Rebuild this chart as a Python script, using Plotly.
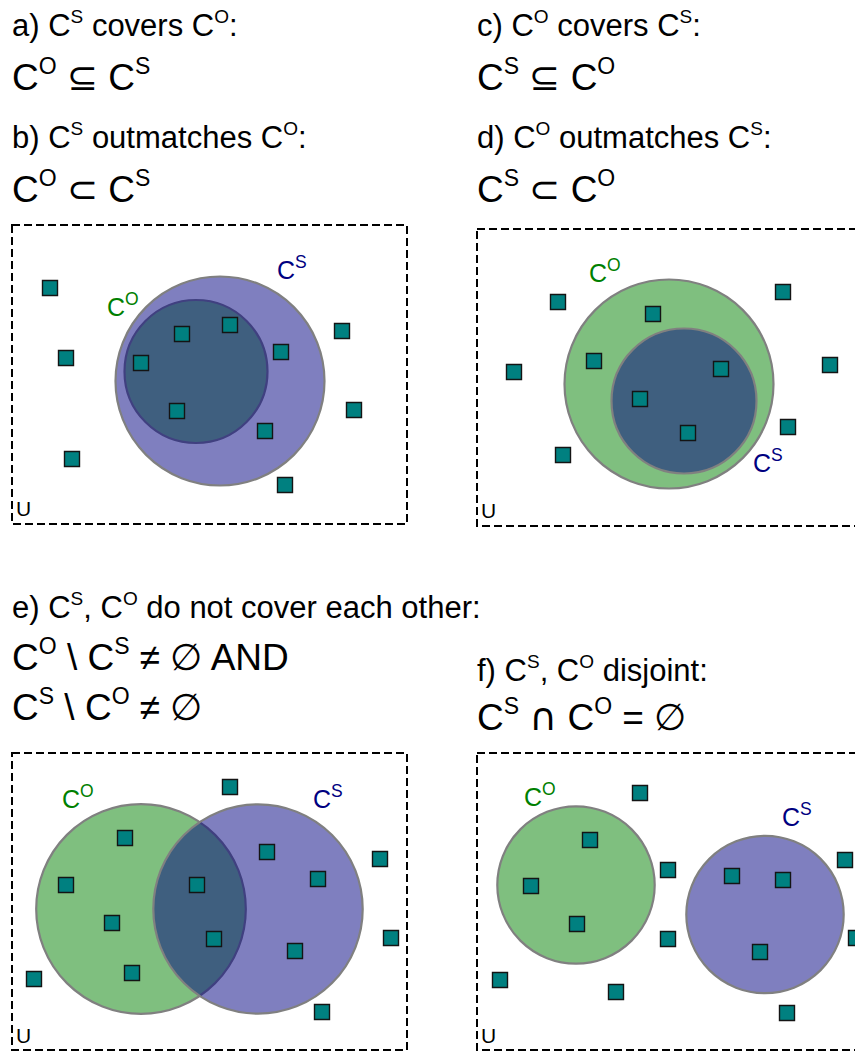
import plotly.graph_objects as go

W, H = 863, 1052
OFF = 8  # page body margin in the browser
FONT = "Liberation Sans, Arial, sans-serif"


def sup(letter, px):
    return "<sup><span style='font-size:%dpx'>%s</span></sup>" % (px, letter)


HS = 19   # superscript size in headers
FS = 23   # superscript size in formulas

# ---- text content ----
header_texts = [
    "a) C%s covers C%s:" % (sup("S", HS), sup("O", HS)),
    "b) C%s outmatches C%s:" % (sup("S", HS), sup("O", HS)),
    "c) C%s covers C%s:" % (sup("O", HS), sup("S", HS)),
    "d) C%s outmatches C%s:" % (sup("O", HS), sup("S", HS)),
    "e) C%s, C%s do not cover each other:" % (sup("S", HS), sup("O", HS)),
    "f) C%s, C%s disjoint:" % (sup("S", HS), sup("O", HS)),
]
header_x = [10, 10, 475, 475, 10, 475]
header_y = [24, 136, 24, 136, 606, 669]

formula_texts = [
    "C%s \u2286 C%s" % (sup("O", FS), sup("S", FS)),
    "C%s \u2282 C%s" % (sup("O", FS), sup("S", FS)),
    "C%s \u2286 C%s" % (sup("S", FS), sup("O", FS)),
    "C%s \u2282 C%s" % (sup("S", FS), sup("O", FS)),
    "C%s \\ C%s \u2260 \u2205 AND" % (sup("O", FS), sup("S", FS)),
    "C%s \\ C%s \u2260 \u2205" % (sup("S", FS), sup("O", FS)),
    "C%s <span style='font-family:DejaVu Sans;font-size:38px'>\u2229</span> C%s = \u2205" % (sup("S", FS), sup("O", FS)),
]
formula_x = [10, 10, 475, 475, 10, 10, 475]
formula_y = [75, 187, 75, 187, 655, 705, 716]

# ---- universe boxes (x0, y0, x1, y1) ----
box_x0 = [12, 477, 12, 477]
box_y0 = [225, 229, 753, 753]
box_x1 = [407, 875, 407, 875]
box_y1 = [524, 526, 1050, 1050]

# ---- circles: panel b, d, e, f ----
co_cx = [196, 669, 141, 576]
co_cy = [371.5, 384, 909, 885]
co_r = [71.5, 104.5, 104.8, 78.7]
cs_cx = [220, 684, 258, 765]
cs_cy = [381, 401, 909, 914.5]
cs_r = [104.5, 72.5, 104.7, 78.7]

co_label_x = [123, 605, 78, 540]
co_label_y = [305, 271, 797, 795]
cs_label_x = [292, 768, 328, 797]
cs_label_y = [268, 461, 797, 815]
u_label_x = [23, 488, 23, 488]
u_label_y = [508, 510, 1035, 1035]

# ---- elements (squares) ----
sq_b_x = [50, 66, 72, 182, 230, 141, 177, 281, 265, 342, 354, 285]
sq_b_y = [288, 358, 459, 334, 325, 363, 411, 352, 431, 331, 410, 485]
sq_d_x = [558, 653, 783, 514, 594, 721, 640, 830, 688, 788, 563]
sq_d_y = [302, 314, 292, 372, 361, 369, 399, 365, 433, 427, 455]
sq_e_x = [125, 66, 112, 132, 34, 197, 214, 230, 267, 318, 295, 380, 391, 322]
sq_e_y = [838, 885, 923, 973, 979, 885, 939, 787, 852, 879, 951, 859, 938, 1012]
sq_f_x = [640, 590, 531, 577, 668, 668, 500, 616, 732, 783, 760, 845, 856, 787]
sq_f_y = [793, 840, 886, 924, 870, 939, 980, 992, 876, 880, 952, 860, 938, 1013]

GREEN_FILL = "rgba(0,128,0,0.5)"
BLUE_FILL = "rgba(0,0,128,0.5)"
EDGE = "rgb(128,128,128)"

fig = go.Figure()
shapes = []

# boxes
for x0, y0, x1, y1 in zip(box_x0, box_y0, box_x1, box_y1):
    shapes.append(dict(type="rect", xref="x", yref="y", x0=x0, y0=y0, x1=x1, y1=y1,
                       line=dict(color="black", width=2, dash="8px,4px"),
                       fillcolor="rgba(0,0,0,0)", layer="below"))

# circles: CO (green) drawn first, CS (blue) on top
for i in range(4):
    shapes.append(dict(type="circle", xref="x", yref="y",
                       x0=co_cx[i] - co_r[i], x1=co_cx[i] + co_r[i],
                       y0=co_cy[i] - co_r[i], y1=co_cy[i] + co_r[i],
                       fillcolor=GREEN_FILL, line=dict(color=EDGE, width=2.2), layer="below"))
    shapes.append(dict(type="circle", xref="x", yref="y",
                       x0=cs_cx[i] - cs_r[i], x1=cs_cx[i] + cs_r[i],
                       y0=cs_cy[i] - cs_r[i], y1=cs_cy[i] + cs_r[i],
                       fillcolor=BLUE_FILL, line=dict(color=EDGE, width=2.2), layer="below"))

# squares
all_x = sq_b_x + sq_d_x + sq_e_x + sq_f_x
all_y = sq_b_y + sq_d_y + sq_e_y + sq_f_y
fig.add_trace(go.Scatter(
    x=all_x, y=all_y, mode="markers",
    marker=dict(symbol="square", size=15, color="rgb(0,128,128)",
                line=dict(color="rgb(20,20,20)", width=1.4)),
    hoverinfo="skip", showlegend=False))

annotations = []
for t, x, y in zip(header_texts, header_x, header_y):
    annotations.append(dict(text=t, x=x, y=y, xref="x", yref="y", xanchor="left",
                            yanchor="middle", showarrow=False,
                            font=dict(family=FONT, size=31, color="black")))
for t, x, y in zip(formula_texts, formula_x, formula_y):
    annotations.append(dict(text=t, x=x, y=y, xref="x", yref="y", xanchor="left",
                            yanchor="middle", showarrow=False,
                            font=dict(family=FONT, size=37, color="black")))
for x, y in zip(co_label_x, co_label_y):
    annotations.append(dict(text="C<sup>O</sup>", x=x, y=y, xref="x", yref="y",
                            showarrow=False, font=dict(family=FONT, size=25, color="rgb(0,128,0)")))
for x, y in zip(cs_label_x, cs_label_y):
    annotations.append(dict(text="C<sup>S</sup>", x=x, y=y, xref="x", yref="y",
                            showarrow=False, font=dict(family=FONT, size=25, color="rgb(0,0,128)")))
for x, y in zip(u_label_x, u_label_y):
    annotations.append(dict(text="U", x=x, y=y, xref="x", yref="y",
                            showarrow=False, font=dict(family=FONT, size=21, color="black")))

fig.update_layout(
    width=W - OFF, height=H - OFF,
    margin=dict(l=0, r=0, t=0, b=0),
    paper_bgcolor="white", plot_bgcolor="white",
    xaxis=dict(range=[OFF, W], visible=False, fixedrange=True),
    yaxis=dict(range=[H, OFF], visible=False, fixedrange=True),
    shapes=shapes, annotations=annotations,
    showlegend=False,
)

fig.write_html("out.html", config={"displayModeBar": False})
